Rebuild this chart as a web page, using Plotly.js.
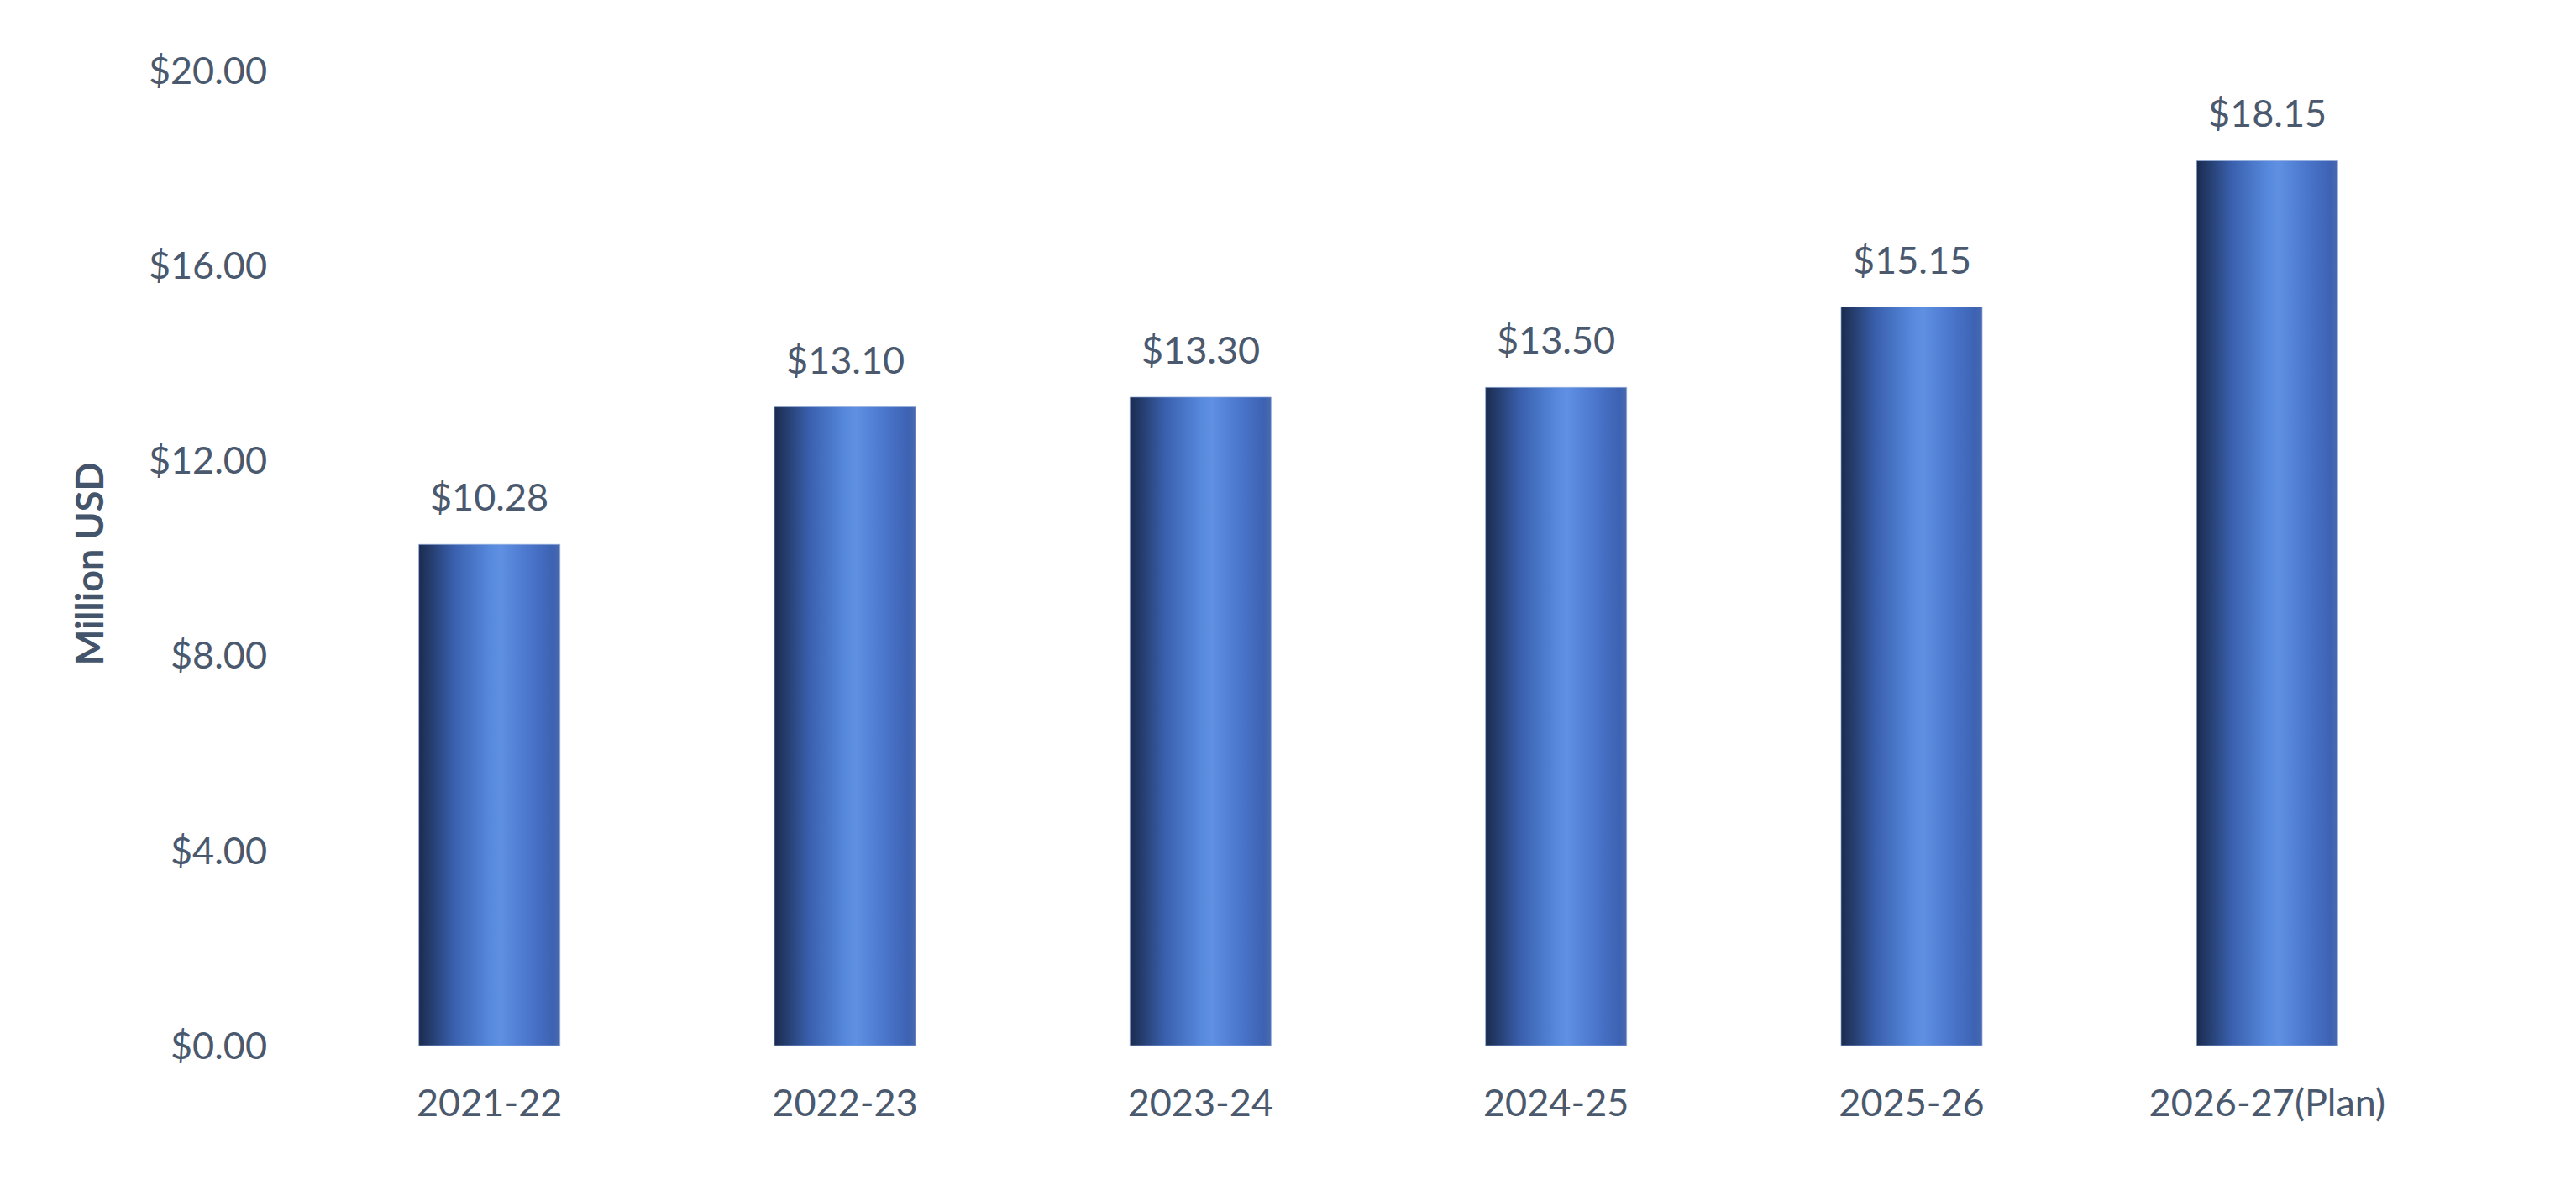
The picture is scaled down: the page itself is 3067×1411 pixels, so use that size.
<!DOCTYPE html>
<html>
<head>
<meta charset="utf-8">
<script src="https://cdn.plot.ly/plotly-3.0.1.min.js"></script>
<style>
  html, body { margin: 0; padding: 0; background: #ffffff; }
  #chart { width: 3067px; height: 1411px; }
</style>
</head>
<body>
<div id="chart"></div>
<script>
// Budget by fiscal year, million USD
var years = ['2021-22', '2022-23', '2023-24', '2024-25', '2025-26', '2026-27(Plan)'];
var budget = [10.28, 13.10, 13.30, 13.50, 15.15, 18.15];
var yTicks = [0, 4, 8, 12, 16, 20];
var yTickText = yTicks.map(function (v) { return '$' + v.toFixed(2); });

var textColor = '#4a596e';
var fontFamily = 'Lato, "Noto Sans", sans-serif';

var trace = {
    x: years,
    y: budget,
    type: 'bar',
    marker: { color: '#4a78cc', line: { color: 'rgba(150,175,222,0.7)', width: 1 } },
    hoverinfo: 'skip'
};

var labels = years.map(function (yr, i) {
    return {
        x: yr, y: budget[i], xref: 'x', yref: 'y',
        text: '$' + budget[i].toFixed(2),
        showarrow: false, yanchor: 'bottom', yshift: 28,
        font: { family: fontFamily, size: 45, color: textColor }
    };
});

// y-axis title placed by hand so it sits where the original does
labels.push({
    xref: 'paper', yref: 'paper', x: -0.104, y: 0.494,
    xanchor: 'center', yanchor: 'middle', textangle: -90,
    text: '<b>Million USD</b>', showarrow: false,
    font: { family: fontFamily, size: 45, color: '#44546a' }
});

var layout = {
    width: 3067,
    height: 1411,
    margin: { t: 84, r: 156, b: 166, l: 371 },
    paper_bgcolor: '#ffffff',
    plot_bgcolor: '#ffffff',
    bargap: 0.603,
    showlegend: false,
    font: { family: fontFamily, size: 45, color: textColor },
    xaxis: {
        type: 'category',
        showgrid: false, zeroline: false, showline: false,
        ticks: '', ticklabelstandoff: 38,
        tickfont: { family: fontFamily, size: 45, color: textColor }
    },
    yaxis: {
        range: [0, 20],
        tickvals: yTicks,
        ticktext: yTickText,
        showgrid: false, zeroline: false, showline: false,
        ticks: '', ticklabelstandoff: 52,
        tickfont: { family: fontFamily, size: 45, color: textColor }
    },
    annotations: labels
};

Plotly.newPlot('chart', [trace], layout, { displayModeBar: false, staticPlot: true }).then(function (gd) {
    // cylinder-like shading across each bar
    var svg = gd.querySelector('.main-svg');
    var ns = 'http://www.w3.org/2000/svg';
    var defs = svg.querySelector('defs') || svg.insertBefore(document.createElementNS(ns, 'defs'), svg.firstChild);
    var grad = document.createElementNS(ns, 'linearGradient');
    grad.setAttribute('id', 'barShade');
    grad.setAttribute('x1', '0'); grad.setAttribute('x2', '1');
    grad.setAttribute('y1', '0'); grad.setAttribute('y2', '0');
    var stops = [
        [0, '#1b2b4f'], [0.07, '#233a68'], [0.25, '#3a60ae'], [0.5, '#5688dc'],
        [0.58, '#5f90e2'], [0.78, '#4a76cc'], [0.95, '#3d62b2'], [1, '#4a6aae']
    ];
    stops.forEach(function (s) {
        var st = document.createElementNS(ns, 'stop');
        st.setAttribute('offset', s[0]);
        st.setAttribute('stop-color', s[1]);
        grad.appendChild(st);
    });
    defs.appendChild(grad);
    gd.querySelectorAll('.bars .point path').forEach(function (p) {
        p.style.fill = 'url(#barShade)';
    });
});
</script>
</body>
</html>
